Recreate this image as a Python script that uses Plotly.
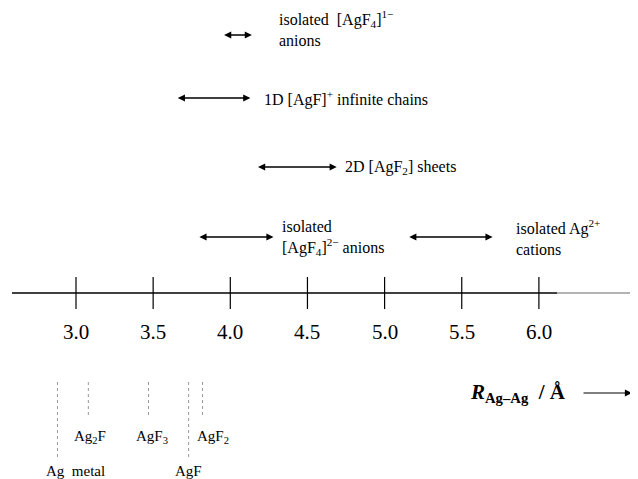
import plotly.graph_objects as go

# ---- data (Å) ----
tick_values = [3.0, 3.5, 4.0, 4.5, 5.0, 5.5, 6.0]
tick_labels = ["3.0", "3.5", "4.0", "4.5", "5.0", "5.5", "6.0"]

range_labels = [
    "isolated  [AgF<sub>4</sub>]<sup>1−</sup><br>anions",
    "1D [AgF]<sup>+</sup> infinite chains",
    "2D [AgF<sub>2</sub>] sheets",
    "isolated<br>[AgF<sub>4</sub>]<sup>2−</sup> anions",
    "isolated Ag<sup>2+</sup><br>cations",
]
range_start = [3.95, 3.65, 4.17, 3.79, 5.15]
range_end = [4.14, 4.13, 4.69, 4.28, 5.70]

compound_labels = ["Ag  metal", "Ag<sub>2</sub>F", "AgF<sub>3</sub>", "AgF", "AgF<sub>2</sub>"]
compound_r = [2.88, 3.08, 3.47, 3.73, 3.82]

# ---- layout helpers (page pixels) ----
PAGE_W, PAGE_H = 638, 479
OFF = 8  # default body margin of the html page
W, H = PAGE_W - OFF, PAGE_H - OFF
PX_PER_A = 154.3
X0 = 3.0 - (76 - OFF) / PX_PER_A
X1 = X0 + W / PX_PER_A
def px(v):
    return 3.0 + (v - 76) / PX_PER_A

row_y = [35, 98, 167, 237, 237]
text_x = [277, 262, 343, 280, 514]
text_y = [[18, 38], [98], [167], [228, 247], [228, 247]]
compound_long = [True, False, False, True, False]
compound_text_shift = [18, 2, 3, 0, 10]

FONT = "Liberation Serif, Times New Roman, serif"
fig = go.Figure()
fig.add_trace(go.Scatter(x=[X0, X1], y=[OFF, PAGE_H], mode="markers", marker=dict(opacity=0),
                         hoverinfo="skip", showlegend=False))

shapes = []
annotations = []

# main axis line
shapes.append(dict(type="line", xref="x", yref="y", x0=px(12), x1=px(557), y0=293, y1=293,
                   line=dict(color="black", width=1.3)))
shapes.append(dict(type="line", xref="x", yref="y", x0=px(557), x1=X1, y0=293, y1=293,
                   line=dict(color="#9a9a9a", width=1.3)))

for v, lab in zip(tick_values, tick_labels):
    shapes.append(dict(type="line", xref="x", yref="y", x0=v, x1=v, y0=277, y1=309,
                       line=dict(color="black", width=1.2)))
    annotations.append(dict(x=v, y=332, xref="x", yref="y", text=lab, showarrow=False,
                            font=dict(family=FONT, size=21, color="black"), xanchor="center", yanchor="middle"))

# range arrows
for i, (lab, s, e) in enumerate(zip(range_labels, range_start, range_end)):
    y = row_y[i]
    annotations.append(dict(x=e, y=y, ax=s, ay=y, xref="x", yref="y", axref="x", ayref="y",
                            text="", showarrow=True, arrowhead=2, startarrowhead=2, arrowside="end+start",
                            arrowsize=1.1, startarrowsize=1.1, arrowwidth=1.3, arrowcolor="black",
                            standoff=0, startstandoff=0))
    ty = text_y[i]
    ycenter = sum(ty) / len(ty)
    annotations.append(dict(x=px(text_x[i]), y=ycenter, xref="x", yref="y", text=lab, showarrow=False,
                            xanchor="left", yanchor="middle", align="left",
                            font=dict(family=FONT, size=16, color="black")))

# compound markers
for lab, r, lng, sh in zip(compound_labels, compound_r, compound_long, compound_text_shift):
    y1 = 458 if lng else 417
    shapes.append(dict(type="line", xref="x", yref="y", x0=r, x1=r, y0=382, y1=y1,
                       line=dict(color="#999999", width=1, dash="dot")))
    annotations.append(dict(x=r, y=(471 if lng else 437), xref="x", yref="y", text=lab, showarrow=False,
                            xanchor="center", yanchor="middle", xshift=sh,
                            font=dict(family=FONT, size=15, color="black")))

# axis title and arrow
annotations.append(dict(x=px(518), y=393, xref="x", yref="y",
                        text="<b><i>R</i></b><b><sub>Ag–Ag</sub>  / Å</b>", showarrow=False,
                        xanchor="center", yanchor="middle", font=dict(family=FONT, size=21, color="black")))
annotations.append(dict(x=px(632), y=393, ax=px(582), ay=393, xref="x", yref="y", axref="x", ayref="y",
                        text="", showarrow=True, arrowhead=2, arrowsize=1.3, arrowwidth=1.1, arrowcolor="black",
                        standoff=0))

fig.update_layout(
    width=W, height=H, margin=dict(l=0, r=0, t=0, b=0),
    paper_bgcolor="white", plot_bgcolor="white",
    xaxis=dict(range=[X0, X1], visible=False, fixedrange=True),
    yaxis=dict(range=[PAGE_H, OFF], visible=False, fixedrange=True),
    shapes=shapes, annotations=annotations, showlegend=False,
)
fig.write_html("out.html")
